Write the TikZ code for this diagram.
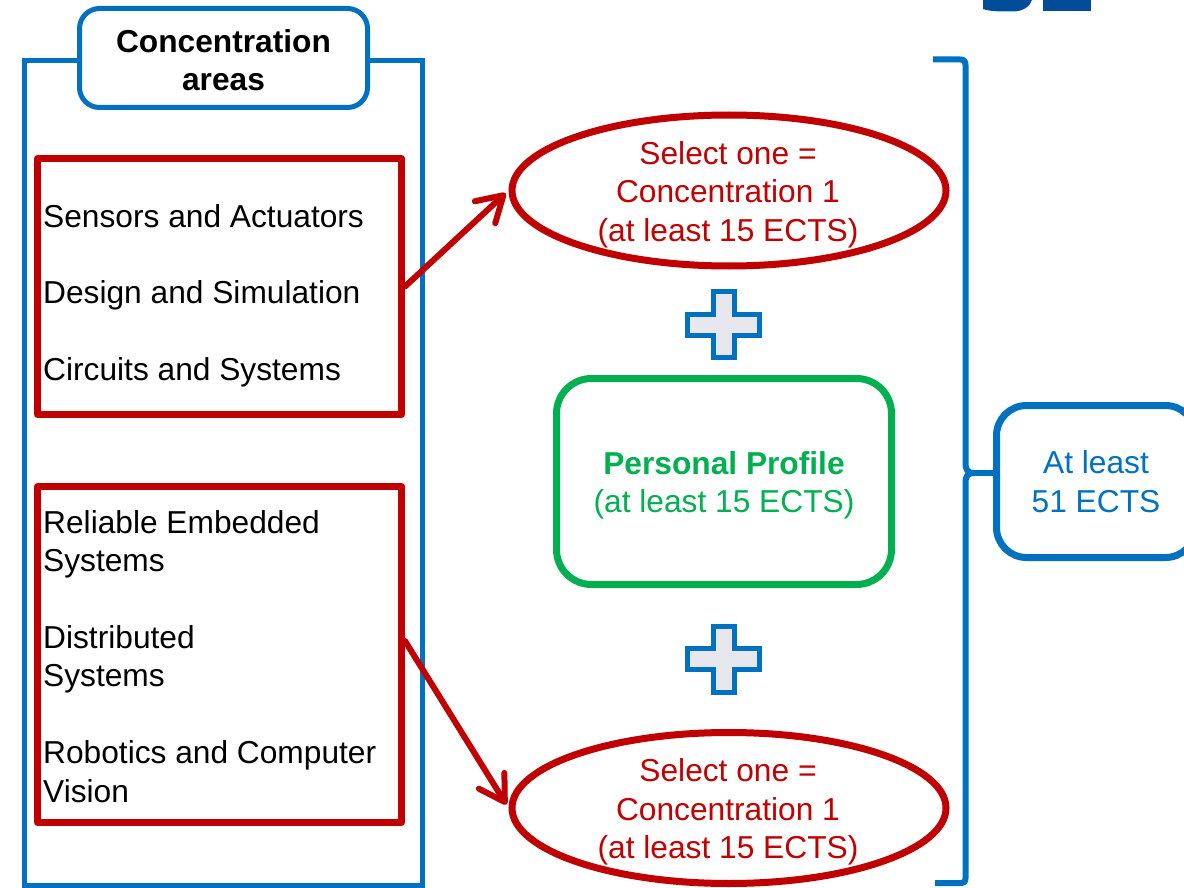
\documentclass[tikz,border=0pt]{standalone}
\usepackage{fontspec}
\setmainfont{Liberation Sans}
\usetikzlibrary{arrows.meta,shapes.geometric,calc}
\definecolor{cblue}{HTML}{0070C0}
\definecolor{cred}{HTML}{C00000}
\definecolor{cgreen}{HTML}{00B050}
\definecolor{cdark}{HTML}{004C99}
\definecolor{cplus}{HTML}{E7E8EE}
\begin{document}
\begin{tikzpicture}[x=1pt,y=-1pt,
  bigfont/.style={font=\fontsize{31.7}{38.5}\selectfont},
  listtext/.style={bigfont, inner sep=0pt, text=black, align=left},
  redbox/.style={draw=cred, line width=7pt, line join=round, inner sep=0pt},
  redell/.style={ellipse, draw=cred, line width=7pt, inner sep=0pt, minimum width=434pt, minimum height=151pt},
  redtext/.style={bigfont, inner sep=0pt, text=cred, align=center},
  redarrow/.style={draw=cred, line width=6pt, line cap=round, shorten >=4pt, -{Straight Barb[length=25pt, width=30pt, round]}},
  plussign/.pic={\draw[cblue, line width=5pt, fill=cplus, line join=miter]
     (-10.5,-33) -- (10.5,-33) -- (10.5,-10.5) -- (36,-10.5) -- (36,10.5) -- (10.5,10.5)
     -- (10.5,33) -- (-10.5,33) -- (-10.5,10.5) -- (-36,10.5) -- (-36,-10.5) -- (-10.5,-10.5) -- cycle;}
]
\useasboundingbox (0,0) rectangle (1184,888);
\clip (0,0) rectangle (1184,888);

% top-right cut-off fragment
\fill[cdark] (983,0) -- (983,9) .. controls (990,11.5) and (1000,11.5) .. (1012,11.5) .. controls (1024,11.5) and (1030,6) .. (1032,0) -- cycle;
\fill[cdark] (1043,0) rectangle (1091,11);

% left concentration area frame
\node[draw=cblue, line width=5pt, inner sep=0pt, minimum width=398pt, minimum height=825pt] (area) at (223.5,473) {};
\node[draw=cblue, fill=white, line width=5pt, rounded corners=20pt, minimum width=288pt, minimum height=99pt, inner sep=0pt] (title) at (223.5,58) {};
\node[font=\fontsize{31.7}{38}\selectfont\bfseries, align=center, inner sep=0pt] (titletext) at (223.5,60.5) {Concentration\\areas};

% red groups
\node[redbox, minimum width=364pt, minimum height=256pt] (box1) at (219.5,286.5) {};
\node[redbox, minimum width=364pt, minimum height=336pt] (box2) at (219.5,654.5) {};

\node[listtext, anchor=base west] (l1) at (43,227) {Sensors and Actuators};
\node[listtext, anchor=base west] (l2) at (43,303) {Design and Simulation};
\node[listtext, anchor=base west] (l3) at (43,380) {Circuits and Systems};
\node[listtext, anchor=west] (l4) at (43,544.5) {Reliable Embedded\\Systems};
\node[listtext, anchor=west] (l5) at (43,659.5) {Distributed\\Systems};
\node[listtext, anchor=west] (l6) at (43,771.7) {Robotics and Computer\\Vision};

% ellipses
\node[redell] (e1) at (729,190.5) {};
\node[redtext] (t1) at (728,194.5) {Select one =\\Concentration 1\\(at least 15 ECTS)};
\node[redell] (e2) at (729,808) {};
\node[redtext] (t2) at (728,812) {Select one =\\Concentration 1\\(at least 15 ECTS)};

% arrows
\draw[redarrow] (box1.east) -- (e1.west);
\draw[redarrow] ([yshift=13.5pt]box2.east) -- (e2.west);

% plus signs
\pic at (723.5,324.5) {plussign};
\pic at (723.5,659) {plussign};

% personal profile
\node[draw=cgreen, line width=7pt, rounded corners=35pt, minimum width=335pt, minimum height=206pt, inner sep=0pt] (pp) at (724,481.5) {};
\node[bigfont, text=cgreen, align=center, inner sep=0pt] (pptext) at (724,485.5) {\textbf{Personal Profile}\\(at least 15 ECTS)};

% total box
\node[draw=cblue, line width=7pt, rounded corners=30pt, minimum width=199pt, minimum height=152pt,
      bigfont, text=cblue, align=center, inner sep=0pt] (tot) at (1096,481.5) {At least\\51 ECTS};

% bracket
\coordinate (tip) at (975,473);
\draw[cblue, line width=6pt, line join=round]
  (933,59.5) -- (960,59.5) .. controls (964,59.5) and (965.5,61) .. (965.5,65)
  -- (965.5,462) .. controls (965.5,470) and (967,473) .. (tip)
  .. controls (967,473) and (965.5,476) .. (965.5,484)
  -- (965.5,878) .. controls (965.5,882) and (964,883) .. (960,883) -- (935,883);
\draw[cblue, line width=6pt] (tip) -- (tip -| tot.west);
\end{tikzpicture}
\end{document}
